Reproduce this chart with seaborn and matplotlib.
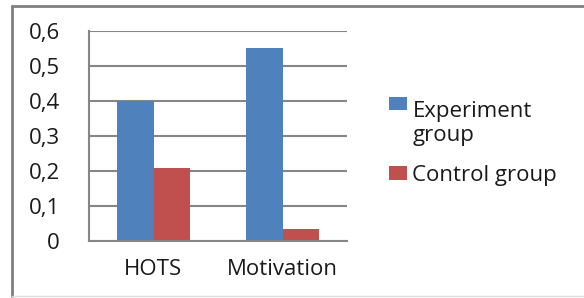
import pandas as pd
import matplotlib
matplotlib.use("Agg")
import matplotlib.pyplot as plt
from matplotlib.ticker import FuncFormatter, FixedLocator
from matplotlib.lines import Line2D
import seaborn as sns

categories = ["HOTS", "Motivation"]
experiment = [0.40, 0.55]
control = [0.21, 0.035]
groups = ["Experiment\ngroup", "Control group"]
yticks = [0, 0.1, 0.2, 0.3, 0.4, 0.5, 0.6]

df = pd.DataFrame({
    "category": categories * 2,
    "value": experiment + control,
    "group": [groups[0]] * len(categories) + [groups[1]] * len(categories),
})

sns.set_style("white")
plt.rcParams['font.family'] = ['Open Sans', 'DejaVu Sans']
fs = 16

fig = plt.figure(figsize=(5.84, 2.98), dpi=100)
ax = fig.add_axes([89 / 584, 57 / 298, 258 / 584, 210 / 298])

sns.barplot(data=df, x="category", y="value", hue="group", ax=ax,
            palette=["#4F81BD", "#C0504D"], width=0.57, linewidth=0, saturation=1)

ax.set_xlim(-0.5, 1.5)
ax.set_ylim(0, 0.6)
ax.set_yticks(yticks)
ax.yaxis.set_major_formatter(FuncFormatter(lambda v, p: ("%g" % v).replace(".", ",")))
ax.yaxis.grid(True, color="#868686", linewidth=1.5)
ax.set_axisbelow(True)
ax.set_xlabel("")
ax.set_ylabel("")

for s in ["top", "right"]:
    ax.spines[s].set_visible(False)
for s in ["left", "bottom"]:
    ax.spines[s].set_color("#868686")
    ax.spines[s].set_linewidth(1.5)

ax.tick_params(axis="y", length=8, width=1.5, color="#868686", pad=13, labelsize=fs, labelcolor="#1a1a1a")
ax.tick_params(axis="x", which="major", length=0, pad=13, labelsize=fs, labelcolor="#1a1a1a")
ax.xaxis.set_minor_locator(FixedLocator([-0.5, 0.5, 1.5]))
ax.tick_params(axis="x", which="minor", length=7, width=1.5, color="#868686")

handles, labels = ax.get_legend_handles_labels()
leg = ax.legend(handles, labels, loc="upper left", bbox_to_anchor=(378 / 584, 208 / 298),
                bbox_transform=fig.transFigure, frameon=False, fontsize=fs, borderpad=0,
                handlelength=0.8, handleheight=0.55, handletextpad=0.25, labelspacing=0.83,
                labelcolor="#1a1a1a")
# put the first square next to the first line of its two-line label
leg.legend_handles[0].set_y(leg.legend_handles[0].get_y() + 14.5)

# outer chart frame
fig.add_artist(Line2D([12 / 584, 12 / 584], [2 / 298, 292.5 / 298], color="#7f7f7f", linewidth=2,
                      transform=fig.transFigure))
fig.add_artist(Line2D([12 / 584, 1], [292.5 / 298, 292.5 / 298], color="#7f7f7f", linewidth=2,
                      transform=fig.transFigure))
fig.add_artist(Line2D([12 / 584, 1], [2 / 298, 2 / 298], color="#dddddd", linewidth=1,
                      transform=fig.transFigure))

fig.savefig("out.png", dpi=100)
